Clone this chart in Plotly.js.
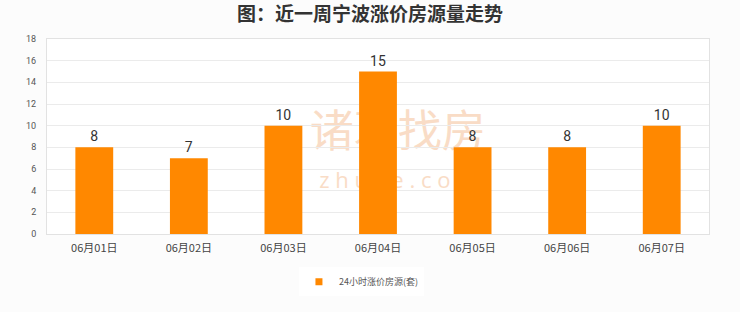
<!DOCTYPE html>
<html>
<head>
<meta charset="utf-8">
<script src="https://cdn.plot.ly/plotly-3.0.1.min.js"></script>
<style>
  html, body { margin: 0; padding: 0; background: #fcfcfc; }
  #chart { width: 740px; height: 312px; }
</style>
</head>
<body>
<div id="chart"></div>
<script>
// Daily count of listings with a price rise over the last week (Ningbo)
const days = ['06月01日', '06月02日', '06月03日', '06月04日', '06月05日', '06月06日', '06月07日'];
const raisedCounts = [8, 7, 10, 15, 8, 8, 10];
const seriesName = '24小时涨价房源(套)';
const chartTitle = '图：近一周宁波涨价房源量走势';
const yTicks = [0, 2, 4, 6, 8, 10, 12, 14, 16, 18];

const cjk = '"Noto Sans CJK SC", "Noto Sans", sans-serif';
const barColor = '#ff8800';

const bars = {
  type: 'bar',
  x: days,
  y: raisedCounts,
  name: seriesName,
  showlegend: false,
  marker: { color: barColor, line: { width: 0 } },
  text: raisedCounts.map(String),
  textposition: 'outside',
  textfont: { family: 'Roboto, "Noto Sans", sans-serif', size: 14, color: '#333' },
  cliponaxis: false,
  hoverinfo: 'x+y'
};

// small square key for the legend
const legendKey = {
  type: 'scatter',
  mode: 'markers',
  x: [null],
  y: [null],
  name: seriesName,
  marker: { symbol: 'square', size: 7, color: barColor },
  hoverinfo: 'skip'
};

const layout = {
  width: 740,
  height: 312,
  margin: { l: 47, r: 31, t: 39, b: 78 },
  paper_bgcolor: '#fcfcfc',
  plot_bgcolor: '#ffffff',
  title: {
    text: '<b>' + chartTitle + '</b>',
    font: { family: cjk, size: 19, color: '#333' },
    x: 0.5, xanchor: 'center',
    y: 0.955, yanchor: 'middle'
  },
  bargap: 0.6,
  showlegend: true,
  legend: {
    orientation: 'h',
    x: 0.475, xanchor: 'center',
    y: -0.245, yanchor: 'middle',
    bgcolor: '#ffffff',
    font: { family: cjk, size: 9, color: '#555' },
    itemwidth: 30
  },
  xaxis: {
    type: 'category',
    tickfont: { family: cjk, size: 11, color: '#444' },
    showgrid: false,
    showline: true, linecolor: '#e2e2e2', linewidth: 1,
    mirror: true,
    ticks: '', ticklen: 0,
    ticklabelstandoff: 4,
    automargin: false
  },
  yaxis: {
    range: [0, 18],
    tickvals: yTicks,
    tickfont: { family: 'Roboto, "Noto Sans", sans-serif', size: 9, color: '#555' },
    showgrid: true, gridcolor: '#ebebeb', gridwidth: 1,
    zeroline: false,
    showline: true, linecolor: '#e2e2e2', linewidth: 1,
    mirror: true,
    ticks: '', ticklabelstandoff: 8,
    automargin: false,
    fixedrange: true
  },
  shapes: [
    {
      type: 'rect', layer: 'below',
      xref: 'paper', yref: 'paper',
      x0: 0.37, x1: 0.69, y0: 0.42, y1: 0.60,
      line: { width: 0 }, fillcolor: 'rgba(0,0,0,0)',
      label: {
        text: '诸葛找房',
        font: { family: cjk, size: 44, color: '#f9dcc6' },
        textposition: 'middle center'
      }
    },
    {
      type: 'rect', layer: 'below',
      xref: 'paper', yref: 'paper',
      x0: 0.37, x1: 0.69, y0: 0.18, y1: 0.36,
      line: { width: 0 }, fillcolor: 'rgba(0,0,0,0)',
      label: {
        text: 'z h u g e . c o m',
        font: { family: '"Open Sans", sans-serif', size: 22, color: '#f9dcc6' },
        textposition: 'middle center'
      }
    }
  ]
};

Plotly.newPlot('chart', [bars, legendKey], layout, { displayModeBar: false, responsive: false });
</script>
</body>
</html>
